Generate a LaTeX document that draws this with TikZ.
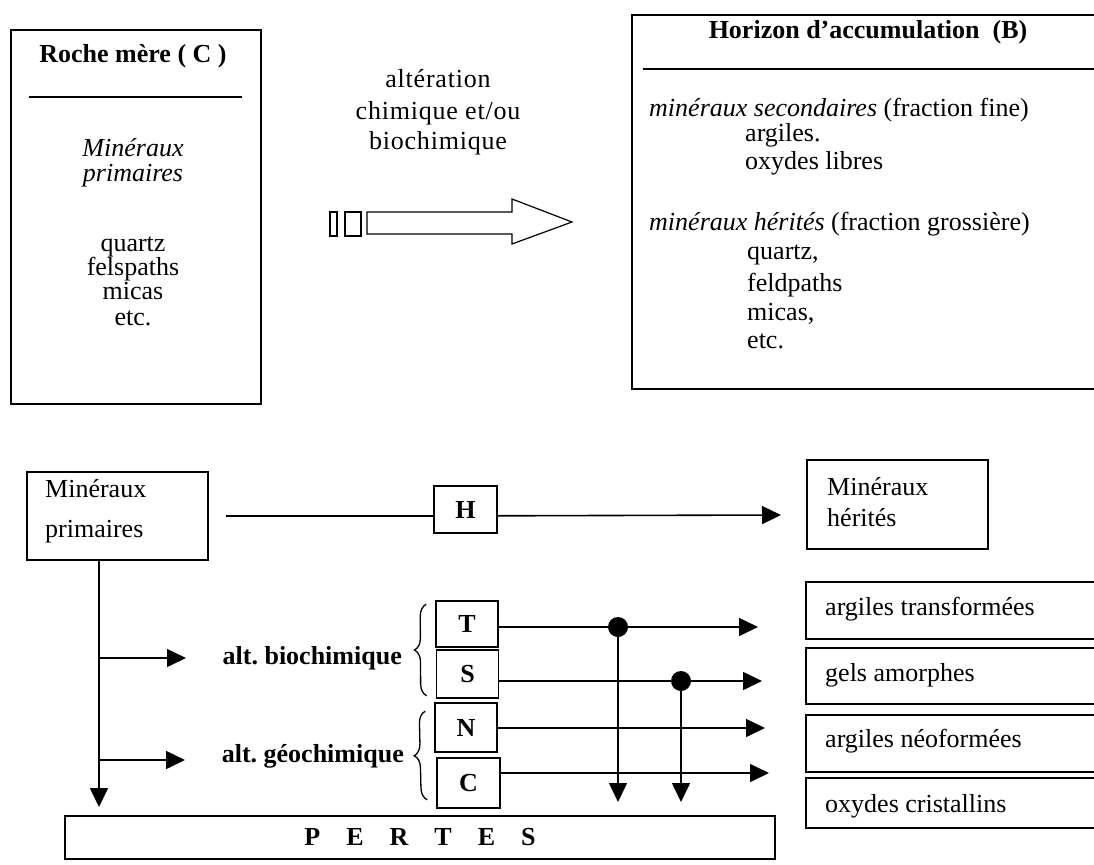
\documentclass[tikz,border=0pt]{standalone}
\usepackage{fontspec}
\setmainfont{Liberation Serif}
\newfontfamily\spacedserif[LetterSpace=3]{Liberation Serif}
\usetikzlibrary{arrows.meta,decorations.pathreplacing}

\begin{document}
\begin{tikzpicture}[x=1pt,y=-1pt,
  box/.style={draw, line width=1.6pt, inner sep=0pt},
  lbl/.style={inner sep=0pt, font=\fontsize{26}{28}\selectfont},
  blbl/.style={inner sep=0pt, font=\fontsize{26}{28}\selectfont\bfseries},
  slbl/.style={inner sep=0pt, font=\fontsize{26}{28}\selectfont\spacedserif},
  rule/.style={line width=1.6pt},
  link/.style={line width=1.6pt},
  arr/.style={line width=1.6pt, -{Triangle[length=19pt,width=18pt]}},
  dot/.style={circle, fill, inner sep=0pt, minimum size=20pt},
  brace/.style={decorate, decoration={brace, amplitude=12pt}, line width=1.3pt},
  hollow/.style={line width=1.2pt, line join=miter}]

\useasboundingbox (0,0) rectangle (1094,864);
\clip (0,0) rectangle (1094,864);

% ---------- Parent rock (C) ----------
\node[box, anchor=north west, minimum width=250pt, minimum height=374pt] (roche) at (10,29) {};
\node[blbl, anchor=base] (rocheTitle) at (133,63) {Roche mère ( C )};
\draw[rule] (29,97) -- (242,97);
\node[lbl, anchor=base] (rocheA) at (133,157) {\itshape Minéraux};
\node[lbl, anchor=base] (rocheB) at (133,181) {\itshape primaires};
\node[lbl, anchor=base] (rocheC) at (133,251) {quartz};
\node[lbl, anchor=base] (rocheD) at (133,275) {felspaths};
\node[lbl, anchor=base] (rocheE) at (133,299) {micas};
\node[lbl, anchor=base] (rocheF) at (133,325) {etc.};

% ---------- Weathering arrow ----------
\node[slbl, anchor=base] (altA) at (438,88) {altération};
\node[slbl, anchor=base] (altB) at (438,120) {chimique et/ou};
\node[slbl, anchor=base] (altC) at (438,149) {biochimique};
\draw[hollow] (330,212) rectangle (337,236);
\draw[hollow] (345,212) rectangle (361,236);
\draw[hollow] (367,212) -- (512,212) -- (512,199) -- (572,222) -- (512,244)
  -- (512,234) -- (367,234) -- cycle;

% ---------- Accumulation horizon (B) ----------
\node[box, anchor=north west, minimum width=466pt, minimum height=374pt] (horizon) at (631,14) {};
\node[blbl, anchor=base] (horizonTitle) at (868,39) {Horizon d’accumulation\ \ (B)};
\draw[rule] (643,69) -- (1097,69);
\node[lbl, anchor=base west] (hzA) at (649,117) {\textit{minéraux secondaires} (fraction fine)};
\node[lbl, anchor=base west] (hzB) at (745,141) {argiles.};
\node[lbl, anchor=base west] (hzC) at (745,169) {oxydes libres};
\node[lbl, anchor=base west] (hzD) at (649,230) {\textit{minéraux hérités} (fraction grossière)};
\node[lbl, anchor=base west] (hzE) at (747,259) {quartz,};
\node[lbl, anchor=base west] (hzF) at (747,291) {feldpaths};
\node[lbl, anchor=base west] (hzG) at (747,320) {micas,};
\node[lbl, anchor=base west] (hzH) at (747,348) {etc.};

% ---------- Flow scheme ----------
\node[box, anchor=north west, minimum width=181pt, minimum height=88pt] (prim) at (26,471) {};
\node[lbl, anchor=base west] (primA) at (45,497) {Minéraux};
\node[lbl, anchor=base west] (primB) at (45,537) {primaires};

\node[box, blbl, minimum width=63pt, minimum height=47pt] (H) at (465.5,509.5) {H};

\node[box, anchor=north west, minimum width=181pt, minimum height=89pt] (herit) at (806,459) {};
\node[lbl, anchor=base west] (heritA) at (827,495) {Minéraux};
\node[lbl, anchor=base west] (heritB) at (827,526) {hérités};

\coordinate (hTip) at (781,515);
\draw[link] ([xshift=17pt]prim.east) -- (prim.east -| H.west);
\draw[arr] (H.east |- prim.east) -- (hTip);

% main trunk and the two weathering branches
\coordinate (trunkEnd) at (99,807);
\draw[arr] (prim.south -| trunkEnd) -- (trunkEnd);
\coordinate (bio) at (99,658);
\coordinate (bioTip) at (186,658);
\coordinate (geo) at (99,760);
\coordinate (geoTip) at (185,760);
\draw[arr] (bio) -- (bioTip);
\draw[arr] (geo) -- (geoTip);
\node[blbl, anchor=base east] (bioLbl) at (402,664) {alt.\ biochimique};
\node[blbl, anchor=base east] (geoLbl) at (404,762) {alt.\ géochimique};

% process boxes
\node[box, blbl, minimum width=62pt, minimum height=46pt] (T) at (467,624) {T};
\node[box, blbl, minimum width=62pt, minimum height=48pt] (S) at (467.5,674) {S};
\node[box, blbl, minimum width=62pt, minimum height=49pt] (N) at (466,727.5) {N};
\node[box, blbl, minimum width=63pt, minimum height=50pt] (C) at (468.5,783) {C};

\draw[brace] ([shift={(-9,-3)}]S.south west) -- ([shift={(-9,4)}]T.north west);
\draw[brace] ([shift={(-9,-9)}]C.south west) -- ([shift={(-9,9)}]N.north west);

% products
\node[box, anchor=north west, minimum width=292pt, minimum height=57pt] (rT) at (805,581) {};
\node[box, anchor=north west, minimum width=292pt, minimum height=56pt] (rS) at (805,647) {};
\node[box, anchor=north west, minimum width=292pt, minimum height=57pt] (rN) at (805,714) {};
\node[box, anchor=north west, minimum width=292pt, minimum height=50pt] (rC) at (805,777) {};
\node[lbl, anchor=base west] (rTtxt) at (825,615) {argiles transformées};
\node[lbl, anchor=base west] (rStxt) at (825,681) {gels amorphes};
\node[lbl, anchor=base west] (rNtxt) at (825,747) {argiles néoformées};
\node[lbl, anchor=base west] (rCtxt) at (825,812) {oxydes cristallins};

% process lines
\coordinate (tTip) at (758,627);
\coordinate (sTip) at (762,681);
\coordinate (nTip) at (765,728);
\coordinate (cTip) at (769,773);
\draw[arr] (T.east |- tTip) -- (tTip);
\draw[arr] (S.east |- sTip) -- (sTip);
\draw[arr] (N.east |- nTip) -- (nTip);
\draw[arr] (C.east |- cTip) -- (cTip);

% branchings towards losses
\node[dot] (j1) at (618,627) {};
\node[dot] (j2) at (681,681) {};
\coordinate (v1) at (618,802);
\coordinate (v2) at (681,802);
\draw[arr] (j1) -- (v1);
\draw[arr] (j2) -- (v2);

% losses
\node[box, blbl, minimum width=710pt, minimum height=43pt] (pertes) at (420,837.5)
  {P\hspace{26pt}E\hspace{26pt}R\hspace{26pt}T\hspace{26pt}E\hspace{26pt}S};
\end{tikzpicture}
\end{document}
